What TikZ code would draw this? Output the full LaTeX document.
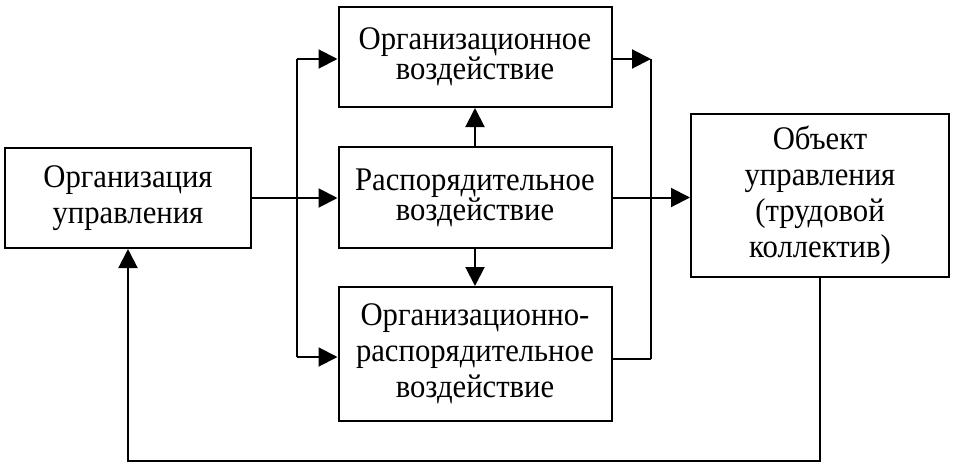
\documentclass[tikz,border=0pt]{standalone}
\usepackage{fontspec}
\setmainfont{Liberation Serif}[FakeStretch=0.93]
\usetikzlibrary{arrows.meta}
\begin{document}
\begin{tikzpicture}[x=1pt,y=-1pt,
  box/.style={draw,line width=2pt,align=center,inner sep=0pt,
    font=\fontsize{33}{36}\selectfont},
  tight/.style={font=\fontsize{33}{30}\selectfont},
  ln/.style={line width=2pt},
  arr/.style={line width=2pt,-{Triangle[length=19pt,width=19pt]}}]
\useasboundingbox (0,0) rectangle (954,466);
\fill[white] (0,0) rectangle (954,466);
\node[box,minimum width=246pt,minimum height=100pt] (left) at (128,198) {Организация\\управления};
\node[box,tight,minimum width=273pt,minimum height=100pt] (top) at (475,57) {Организационное\\воздействие};
\node[box,tight,minimum width=273pt,minimum height=101pt] (mid) at (475,197.5) {Распорядительное\\воздействие};
\node[box,minimum width=273pt,minimum height=134pt] (bot) at (475,354) {Организационно-\\распорядительное\\воздействие};
\node[box,minimum width=258pt,minimum height=163pt] (right) at (820,195) {Объект\\управления\\(трудовой\\коллектив)};
% left fan-out
\coordinate (s1) at (297,59);
\coordinate (s3) at (297,357);
\draw[ln] (s1) -- (s3);
\draw[arr] (left.east) -- (left.east -| mid.west);
\draw[arr] (s1) -- (s1 -| top.west);
\draw[arr] (s3) -- (s3 -| bot.west);
% vertical arrows
\draw[arr] (mid.north) -- (top.south);
\draw[arr] (mid.south) -- (bot.north);
% right fan-in
\coordinate (r1) at (651,59);
\coordinate (r3) at (651,359);
\draw[arr] (top.east |- r1) -- (r1);
\draw[ln] (r1) -- (r3);
\draw[ln] (bot.east |- r3) -- (r3);
\draw[arr] (mid.east) -- (mid.east -| right.west);
% feedback
\coordinate (f1) at (820,461);
\coordinate (f2) at (128,461);
\draw[arr] (right.south) -- (f1) -- (f2) -- (left.south);
\end{tikzpicture}
\end{document}
